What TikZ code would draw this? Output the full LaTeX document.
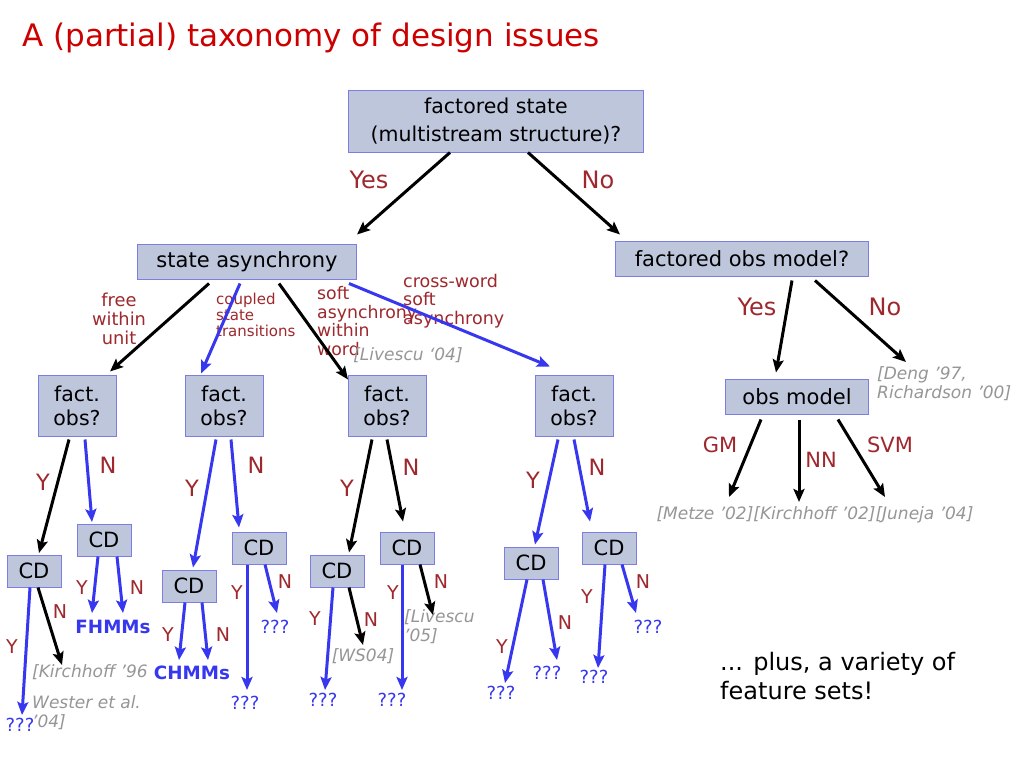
\documentclass[tikz,border=0pt]{standalone}
\usepackage{fontspec}
\setmainfont{DejaVu Sans}
\usetikzlibrary{arrows.meta}
\definecolor{titlered}{RGB}{204,0,0}
\definecolor{lblred}{RGB}{158,40,45}
\definecolor{refgray}{RGB}{150,150,150}
\definecolor{arrblue}{RGB}{55,55,240}
\definecolor{boxfill}{RGB}{190,198,220}
\definecolor{boxline}{RGB}{125,125,228}
\newcommand\fsz[2]{\fontsize{#1}{#2}\selectfont}
\begin{document}
\begin{tikzpicture}[x=1pt,y=-1pt,
  box/.style={draw=boxline, fill=boxfill, line width=1pt, inner sep=0pt, align=center, text=black},
  bigbox/.style={box, minimum height=35pt, font=\fsz{21}{25}},
  factbox/.style={box, minimum width=78pt, minimum height=61pt, font=\fsz{20.5}{24}},
  cdbox/.style={box, minimum width=54pt, minimum height=32pt, font=\fsz{21}{24}},
  blk/.style={draw=black, line width=3pt, -{Stealth[length=13pt,width=11pt,inset=2.5pt]}},
  blu/.style={blk, draw=arrblue, fill=arrblue},
  lbl/.style={text=lblred, inner sep=0pt},
  big/.style={lbl, font=\fsz{24}{28}},
  yn/.style={lbl, font=\fsz{22.5}{26}},
  yn3/.style={lbl, font=\fsz{19}{21}},
  ref/.style={text=refgray, inner sep=0pt, align=left, font=\fsz{17}{19}\itshape},
  qq/.style={text=arrblue, inner sep=0pt, font=\fsz{18}{20}},
  hmm/.style={text=arrblue, inner sep=0pt, font=\fsz{18.3}{22}\bfseries}]
\useasboundingbox[fill=white] (0,0) rectangle (1024,768);

% title
\node[anchor=base west, inner sep=0pt, text=titlered, font=\fsz{31}{36}] (title) at (22,47) {A (partial) taxonomy of design issues};

% main boxes
\node[box, minimum width=295pt, minimum height=62pt, font=\fsz{20.5}{28}] (b1) at (496,121) {factored state\\(multistream structure)?};
\node[bigbox, minimum width=219pt] (sa) at (247,262) {state asynchrony};
\node[bigbox, minimum width=253pt] (fom) at (742,259) {factored obs model?};
\node[bigbox, minimum width=143pt] (om) at (797,397) {obs model};

\node[big] (yes1) at (369,180) {Yes};
\node[big] (no1) at (598,180) {No};
\node[big] (yes2) at (757,307) {Yes};
\node[big] (no2) at (885,307) {No};

\node[lbl, font=\fsz{21}{24}] (gm) at (720,445) {GM};
\node[lbl, font=\fsz{21}{24}] (nn) at (821,460) {NN};
\node[lbl, font=\fsz{21}{24}] (svm) at (890,445) {SVM};

\node[ref, anchor=west] (deng) at (877,384) {[Deng '97,\\Richardson '00]};
\node[ref] (refs) at (815,515) {[Metze '02][Kirchhoff '02][Juneja '04]};

% branch labels
\node[lbl, align=center, font=\fsz{17.8}{19}] (free) at (119,319) {free\\within\\unit};
\node[lbl, align=left, anchor=west, font=\fsz{15}{16}] (coupled) at (216,315) {coupled\\state\\transitions};
\node[lbl, align=left, anchor=west, font=\fsz{17.3}{18.5}] (soft) at (317,321) {soft\\asynchrony\\within\\word};
\node[lbl, align=left, anchor=west, font=\fsz{17.5}{18.5}] (cross) at (403,301) {cross-word\\soft\\asynchrony};
\node[ref] (liv04) at (408,355) {[Livescu `04]};

% fact. obs? boxes
\node[factbox] (fA) at (77,406) {fact.\\obs?};
\node[factbox] (fB) at (224,406) {fact.\\obs?};
\node[factbox] (fC) at (387,406) {fact.\\obs?};
\node[factbox] (fD) at (574,406) {fact.\\obs?};

\node[yn] (yA) at (43,482) {Y};   \node[yn] (nA) at (108,465) {N};
\node[yn] (yB) at (192,488) {Y};  \node[yn] (nB) at (256,465) {N};
\node[yn] (yC) at (347,488) {Y};  \node[yn] (nC) at (411,467) {N};
\node[yn] (yD) at (533,480) {Y};  \node[yn] (nD) at (597,467) {N};

% CD boxes
\node[cdbox] (cA1) at (34,571) {CD};
\node[cdbox] (cA2) at (104,540) {CD};
\node[cdbox] (cB1) at (189,586) {CD};
\node[cdbox] (cB2) at (259,548) {CD};
\node[cdbox] (cC1) at (337,571) {CD};
\node[cdbox] (cC2) at (407,548) {CD};
\node[cdbox] (cD1) at (531,563) {CD};
\node[cdbox] (cD2) at (609,548) {CD};

% level 3 labels
\node[yn3] at (12,647) {Y};  \node[yn3] at (60,612) {N};
\node[yn3] at (82,588) {Y};  \node[yn3] at (137,588) {N};
\node[yn3] at (168,635) {Y}; \node[yn3] at (223,635) {N};
\node[yn3] at (237,593) {Y}; \node[yn3] at (285,582) {N};
\node[yn3] at (315,619) {Y}; \node[yn3] at (371,620) {N};
\node[yn3] at (393,593) {Y}; \node[yn3] at (441,582) {N};
\node[yn3] at (502,647) {Y}; \node[yn3] at (565,623) {N};
\node[yn3] at (587,597) {Y}; \node[yn3] at (643,582) {N};

% leaves
\node[qq] (qA1) at (20,725) {???};
\node[ref, anchor=west] (kir96) at (32,672) {[Kirchhoff '96};
\node[ref, anchor=west] (wester) at (32,713) {Wester et al.\\'04]};
\node[hmm] (fhmm) at (113,627) {FHMMs};
\node[hmm] (chmm) at (192,673) {CHMMs};
\node[qq] (qB2a) at (245,703) {???};
\node[qq] (qB2b) at (275,627) {???};
\node[qq] (qC1) at (323,700) {???};
\node[ref] (ws04) at (363,656) {[WS04]};
\node[qq] (qC2) at (392,700) {???};
\node[ref, anchor=west] (liv05) at (404,627) {[Livescu\\'05]};
\node[qq] (qD1a) at (501,693) {???};
\node[qq] (qD1b) at (547,673) {???};
\node[qq] (qD2a) at (594,677) {???};
\node[qq] (qD2b) at (648,627) {???};

\node[anchor=west, align=left, inner sep=0pt, font=\fsz{24}{29}] (plus) at (720,676) {... plus, a variety of\\feature sets!};

% top arrows
\draw[blk] ([xshift=-46pt]b1.south) -- ([xshift=110pt,yshift=9.5pt]sa.north);
\draw[blk] ([xshift=32pt]b1.south) -- ([xshift=-122pt,yshift=6.5pt]fom.north);
\draw[blk] ([xshift=50pt,yshift=-3.5pt]fom.south) -- ([xshift=-21pt,yshift=6.5pt]om.north);
\draw[blk] ([xshift=73pt,yshift=-3.5pt]fom.south) -- ([xshift=29pt,yshift=22pt]deng.west);
\draw[blk] ([xshift=-36pt,yshift=-4.5pt]om.south) -- ([xshift=-86pt,yshift=18pt]refs.center);
\draw[blk] ([xshift=2pt,yshift=-4.5pt]om.south) -- ([xshift=-16pt,yshift=13pt]refs.center);
\draw[blk] ([xshift=41pt,yshift=-4.5pt]om.south) -- ([xshift=70pt,yshift=18pt]refs.center);

% state asynchrony arrows
\draw[blk] ([xshift=-38pt,yshift=-3.5pt]sa.south) -- ([xshift=33pt,yshift=3.5pt]fA.north);
\draw[blu] ([xshift=-7pt,yshift=-3.5pt]sa.south) -- ([xshift=-23pt,yshift=1.5pt]fB.north);
\draw[blk] ([xshift=32pt,yshift=-3.5pt]sa.south) -- ([xshift=-39pt,yshift=-4.5pt]fC.north);
\draw[blu] ([xshift=102pt,yshift=-3.5pt]sa.south) -- ([xshift=-24pt,yshift=8.5pt]fD.north);

% fact obs arrows
\draw[blk] ([xshift=-8pt,yshift=-2.5pt]fA.south) -- ([xshift=5pt,yshift=1.5pt]cA1.north);
\draw[blu] ([xshift=8pt,yshift=-2.5pt]fA.south) -- ([xshift=-12pt,yshift=1.5pt]cA2.north);
\draw[blu] ([xshift=-8pt,yshift=-2.5pt]fB.south) -- ([xshift=4pt,yshift=2pt]cB1.north);
\draw[blu] ([xshift=7pt,yshift=-2.5pt]fB.south) -- ([xshift=-20pt,yshift=4pt]cB2.north);
\draw[blk] ([xshift=-15pt,yshift=-2.5pt]fC.south) -- ([xshift=12pt,yshift=2pt]cC1.north);
\draw[blk] ([xshift=0pt,yshift=-2.5pt]fC.south) -- ([xshift=-4pt,yshift=10pt]cC2.north);
\draw[blu] ([xshift=-16pt,yshift=-2.5pt]fD.south) -- ([xshift=4pt,yshift=2pt]cD1.north);
\draw[blu] ([xshift=0pt,yshift=-2.5pt]fD.south) -- ([xshift=-19pt,yshift=10pt]cD2.north);

% CD arrows
\draw[blu] ([xshift=-4pt]cA1.south) -- ([xshift=2pt,yshift=10pt]qA1.center);
\draw[blk] ([xshift=4pt]cA1.south) -- ([xshift=30pt,yshift=7pt]kir96.west);
\draw[blu] ([xshift=-6pt]cA2.south) -- ([xshift=-21pt,yshift=14pt]fhmm.center);
\draw[blu] ([xshift=13pt]cA2.south) -- ([xshift=10pt,yshift=14pt]fhmm.center);
\draw[blu] ([xshift=-4pt]cB1.south) -- ([xshift=-13pt,yshift=13pt]chmm.center);
\draw[blu] ([xshift=13pt]cB1.south) -- ([xshift=16pt,yshift=13pt]chmm.center);
\draw[blu] ([xshift=-12pt]cB2.south) -- ([xshift=2pt,yshift=13pt]qB2a.center);
\draw[blu] ([xshift=6pt]cB2.south) -- ([xshift=2pt,yshift=14pt]qB2b.center);
\draw[blu] ([xshift=-4pt]cC1.south) -- ([xshift=2pt,yshift=10pt]qC1.center);
\draw[blk] ([xshift=12pt]cC1.south) -- ([xshift=0pt,yshift=11pt]ws04.center);
\draw[blu] ([xshift=-5pt]cC2.south) -- ([xshift=10pt,yshift=10pt]qC2.center);
\draw[blk] ([xshift=13pt]cC2.south) -- ([xshift=29pt,yshift=12pt]liv05.west);
\draw[blu] ([xshift=-4pt]cD1.south) -- ([xshift=4pt,yshift=10pt]qD1a.center);
\draw[blu] ([xshift=12pt]cD1.south) -- ([xshift=10pt,yshift=13pt]qD1b.center);
\draw[blu] ([xshift=-4pt]cD2.south) -- ([xshift=4pt,yshift=9pt]qD2a.center);
\draw[blu] ([xshift=13pt]cD2.south) -- ([xshift=-12pt,yshift=14pt]qD2b.center);
\end{tikzpicture}
\end{document}
